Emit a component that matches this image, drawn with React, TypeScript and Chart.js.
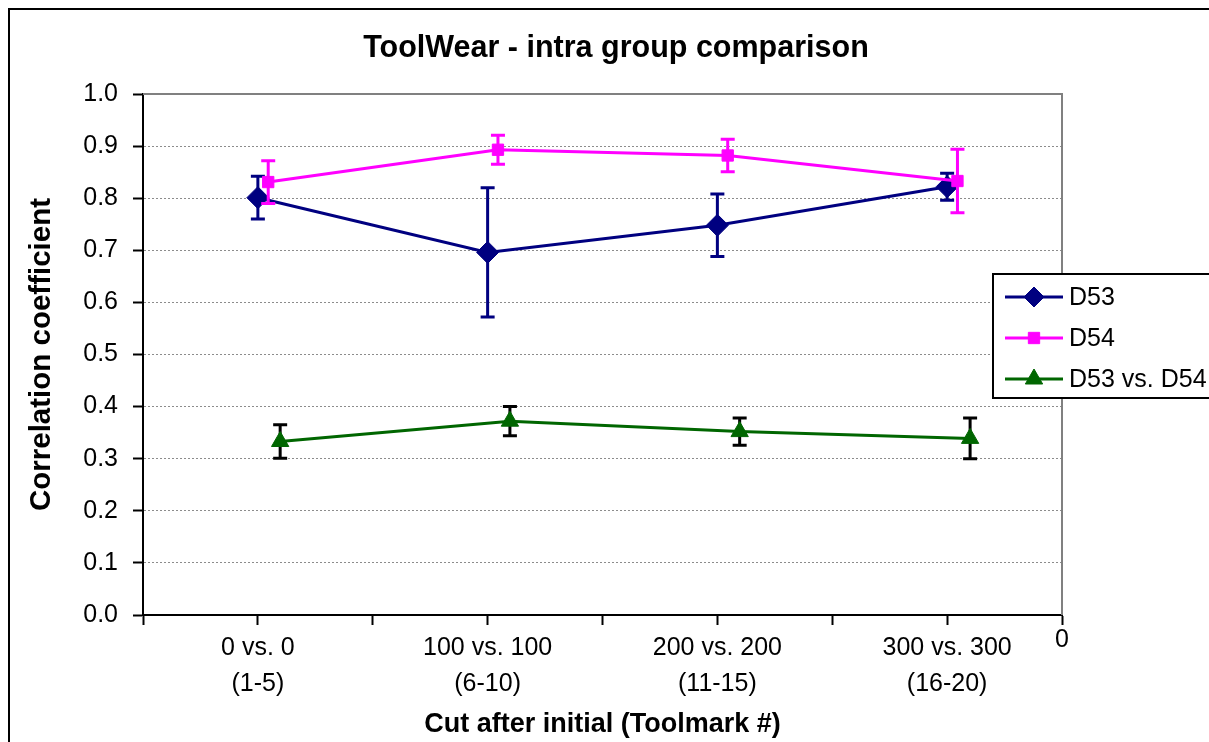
import React, { useEffect, useRef } from 'react';
import { Chart, registerables } from 'chart.js';
import { drawPoint } from 'chart.js/helpers';

Chart.register(...registerables);

// ---- data ----
const categoryLabels: string[][] = [
  ['0 vs. 0', '(1-5)'],
  ['100 vs. 100', '(6-10)'],
  ['200 vs. 200', '(11-15)'],
  ['300 vs. 300', '(16-20)'],
];
const endTickLabel = '0';
const seriesNames = ['D53', 'D54', 'D53 vs. D54'];

const d53X = [0.5, 1.5, 2.5, 3.5];
const d53Y = [0.801, 0.696, 0.748, 0.822];
const d53Err = [0.041, 0.124, 0.06, 0.026];

const d54X = [0.545, 1.545, 2.545, 3.545];
const d54Y = [0.831, 0.893, 0.882, 0.833];
const d54Err = [0.041, 0.028, 0.031, 0.061];

const vsX = [0.597, 1.597, 2.597, 3.6];
const vsY = [0.333, 0.372, 0.352, 0.339];
const vsErr = [0.032, 0.028, 0.026, 0.039];

const FONT = "'Liberation Sans', Arial, sans-serif";
const NAVY = '#000080';
const MAGENTA = '#FF00FF';
const GREEN = '#006600';

const toPoints = (xs: number[], ys: number[]) => xs.map((x, i) => ({ x, y: ys[i] }));

const errorBarPlugin = {
  id: 'errorBars',
  beforeDatasetDraw(chart: any, args: any) {
    const ds: any = chart.data.datasets[args.index];
    if (!ds.errors) return;
    const yScale = chart.scales.y;
    const ctx = chart.ctx;
    ctx.save();
    ctx.strokeStyle = ds.errorColor;
    ctx.lineWidth = 3;
    args.meta.data.forEach((pt: any, i: number) => {
      const v = ds.data[i].y;
      const e = ds.errors[i];
      const yt = yScale.getPixelForValue(v + e);
      const yb = yScale.getPixelForValue(v - e);
      const x = pt.x;
      ctx.beginPath();
      ctx.moveTo(x, yt);
      ctx.lineTo(x, yb);
      ctx.moveTo(x - 7, yt);
      ctx.lineTo(x + 7, yt);
      ctx.moveTo(x - 7, yb);
      ctx.lineTo(x + 7, yb);
      ctx.stroke();
    });
    ctx.restore();
  },
};

const framePlugin = {
  id: 'plotFrame',
  beforeDatasetsDraw(chart: any) {
    const { ctx, chartArea } = chart;
    ctx.save();
    ctx.strokeStyle = '#808080';
    ctx.lineWidth = 2;
    ctx.beginPath();
    ctx.moveTo(chartArea.left, chartArea.top);
    ctx.lineTo(chartArea.right, chartArea.top);
    ctx.lineTo(chartArea.right, chartArea.bottom);
    ctx.stroke();
    ctx.restore();
  },
};

const legendPlugin = {
  id: 'boxLegend',
  afterDraw(chart: any) {
    const ctx = chart.ctx;
    const bx = 983, by = 264, bw = 226, bh = 124;
    ctx.save();
    ctx.fillStyle = '#ffffff';
    ctx.fillRect(bx, by, bw, bh);
    ctx.strokeStyle = '#000000';
    ctx.lineWidth = 2;
    ctx.strokeRect(bx, by, bw, bh);
    const rows = [287, 328, 369];
    chart.data.datasets.forEach((ds: any, i: number) => {
      const y = rows[i];
      ctx.strokeStyle = ds.borderColor;
      ctx.lineWidth = 3;
      ctx.beginPath();
      ctx.moveTo(995, y);
      ctx.lineTo(1053, y);
      ctx.stroke();
      ctx.fillStyle = ds.backgroundColor;
      ctx.strokeStyle = ds.borderColor;
      ctx.lineWidth = 1;
      drawPoint(ctx, { pointStyle: ds.pointStyle, radius: ds.legendRadius, rotation: 0, borderWidth: 1 } as any, 1024, y);
      ctx.fillStyle = '#000000';
      ctx.font = `25px ${FONT}`;
      ctx.textBaseline = 'middle';
      ctx.textAlign = 'left';
      ctx.fillText(ds.label, 1059, y + 1);
    });
    ctx.restore();
  },
};

export default function App() {
  const ref = useRef<HTMLCanvasElement | null>(null);

  useEffect(() => {
    if (!ref.current) return;
    Chart.defaults.font.family = FONT;
    Chart.defaults.color = '#000000';
    const chart = new Chart(ref.current, {
      type: 'line',
      data: {
        datasets: [
          {
            label: seriesNames[0],
            data: toPoints(d53X, d53Y),
            borderColor: NAVY,
            backgroundColor: NAVY,
            borderWidth: 3,
            pointStyle: 'rectRot',
            pointRadius: 11,
            pointBorderWidth: 1,
            order: 3,
            errors: d53Err,
            errorColor: NAVY,
            legendRadius: 10,
          } as any,
          {
            label: seriesNames[1],
            data: toPoints(d54X, d54Y),
            borderColor: MAGENTA,
            backgroundColor: MAGENTA,
            borderWidth: 3,
            pointStyle: 'rect',
            pointRadius: 8,
            pointBorderWidth: 1,
            order: 2,
            errors: d54Err,
            errorColor: MAGENTA,
            legendRadius: 8,
          } as any,
          {
            label: seriesNames[2],
            data: toPoints(vsX, vsY),
            borderColor: GREEN,
            backgroundColor: GREEN,
            borderWidth: 3,
            pointStyle: 'triangle',
            pointRadius: 10,
            pointBorderWidth: 1,
            order: 1,
            errors: vsErr,
            errorColor: '#000000',
            legendRadius: 10,
          } as any,
        ],
      },
      options: {
        responsive: false,
        animation: false,
        events: [],
        layout: { padding: { left: 0, right: 0, top: 0, bottom: 0 } },
        plugins: {
          legend: { display: false },
          tooltip: { enabled: false },
          title: {
            display: true,
            text: 'ToolWear - intra group comparison',
            color: '#000000',
            font: { size: 30.5, weight: 'bold', family: FONT },
            padding: { top: 20, bottom: 27.4 },
          },
        },
        scales: {
          x: {
            type: 'linear',
            min: 0,
            max: 4,
            afterFit: (s: any) => { s.height = 155; },
            ticks: {
              stepSize: 0.5,
              autoSkip: false,
              maxRotation: 0,
              minRotation: 0,
              padding: 5,
              color: '#000000',
              font: (c: any) =>
                c.tick && c.tick.value === 4
                  ? { size: 25, lineHeight: '20px', family: FONT }
                  : { size: 25, lineHeight: '36px', family: FONT },
              callback: (v: any) => {
                const n = Number(v);
                if (Math.abs(n - 4) < 1e-9) return endTickLabel;
                const idx = Math.floor(n);
                if (Math.abs(n - idx - 0.5) < 1e-9 && categoryLabels[idx]) return categoryLabels[idx];
                return '';
              },
            },
            grid: {
              drawOnChartArea: false,
              drawTicks: true,
              tickLength: 10,
              tickColor: '#000000',
              tickWidth: 2,
              color: '#000000',
            },
            border: { display: true, color: '#000000', width: 2 },
            title: {
              display: true,
              text: 'Cut after initial (Toolmark #)',
              color: '#000000',
              font: { size: 27, weight: 'bold', family: FONT },
              padding: { top: 0, bottom: 28.8 },
            },
          },
          y: {
            type: 'linear',
            min: 0,
            max: 1,
            afterFit: (s: any) => { s.width = 133; },
            ticks: {
              stepSize: 0.1,
              padding: 15,
              color: '#000000',
              font: { size: 25, family: FONT },
              callback: (v: any) => Number(v).toFixed(1),
            },
            grid: {
              drawOnChartArea: true,
              drawTicks: true,
              tickLength: 10,
              tickColor: '#000000',
              tickWidth: 2,
              color: '#8c8c8c',
              lineWidth: 1,
            },
            border: { display: true, color: '#000000', width: 2, dash: [2, 2] },
            title: {
              display: true,
              text: 'Correlation coefficient',
              color: '#000000',
              font: { size: 29.5, weight: 'bold', family: FONT },
              padding: { top: 14.3, bottom: 0 },
            },
          },
          yRightSpace: {
            type: 'linear',
            position: 'right',
            min: 0,
            max: 1,
            display: true,
            afterFit: (s: any) => { s.width = 160; },
            ticks: { display: false },
            grid: { display: false, drawTicks: false },
            border: { display: false },
            title: { display: false },
          },
        },
      } as any,
      plugins: [errorBarPlugin, framePlugin, legendPlugin],
    });
    return () => chart.destroy();
  }, []);

  return (
    <div style={{ position: 'fixed', left: 8, top: 8, width: 1201, height: 734, overflow: 'hidden' }}>
      <div style={{ border: '2px solid #000', width: 1212, height: 760, background: '#fff' }}>
        <canvas ref={ref} width={1212} height={760} style={{ display: 'block' }} />
      </div>
    </div>
  );
}
